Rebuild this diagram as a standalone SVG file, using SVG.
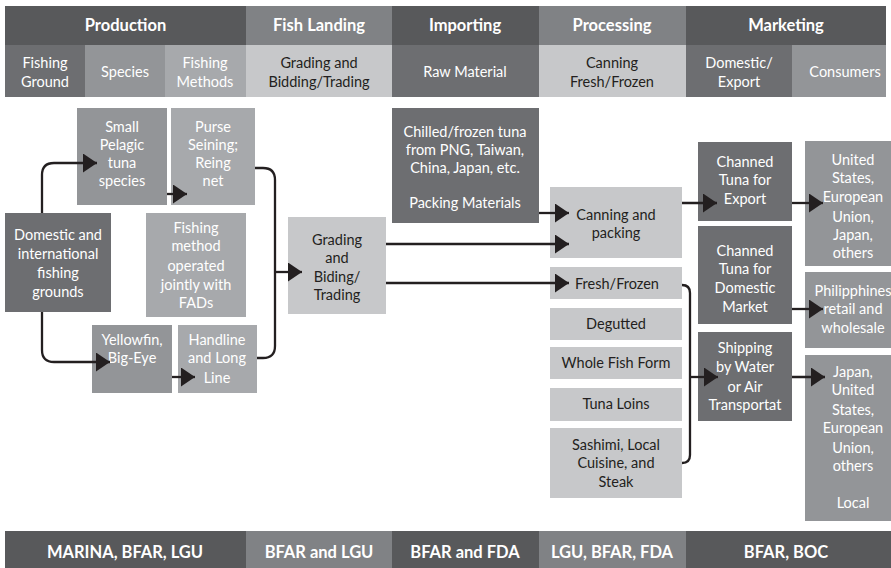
<svg xmlns="http://www.w3.org/2000/svg" width="891" height="568" viewBox="0 0 891 568">
<defs>
<marker id="ah" markerUnits="userSpaceOnUse" markerWidth="16" markerHeight="20" refX="14" refY="9.5" orient="auto">
<path d="M0,0 L14,9.5 L0,19 z" fill="#231f20"/>
</marker>
<style>
text{font-family:Lato,"Open Sans","Liberation Sans",sans-serif;text-anchor:middle;}
.h{font-size:16.5px;font-weight:bold;fill:#fff;}
.s{font-size:14.5px;fill:#fff;}
.sd{font-size:14.5px;fill:#231f20;}
.t{font-size:14.5px;fill:#fff;}
.td{font-size:14.5px;fill:#231f20;}
.dk{fill:#58595b;}
.md{fill:#808285;}
.g1{fill:#6d6e71;}
.g2{fill:#939598;}
.g3{fill:#a7a9ac;}
.g4{fill:#c7c8ca;}
.c{fill:none;stroke:#231f20;stroke-width:2.3;}
</style>
</defs>
<rect width="891" height="568" fill="#fff"/>

<g id="header">
<rect class="dk" x="5" y="6" width="241" height="39"/>
<rect class="md" x="246" y="6" width="146" height="39"/>
<rect class="dk" x="392" y="6" width="147" height="39"/>
<rect class="md" x="539" y="6" width="147" height="39"/>
<rect class="dk" x="686" y="6" width="200" height="39"/>
<text class="h" x="125.5" y="31">Production</text>
<text class="h" x="319" y="31">Fish Landing</text>
<text class="h" x="465" y="31">Importing</text>
<text class="h" x="612" y="31">Processing</text>
<text class="h" x="786" y="31">Marketing</text>
</g>

<g id="subheader">
<rect class="g1" x="5" y="45" width="80" height="52"/>
<rect class="g2" x="85" y="45" width="80" height="52"/>
<rect class="g3" x="165" y="45" width="81" height="52"/>
<rect class="g4" x="246" y="45" width="146" height="52"/>
<rect class="g1" x="392" y="45" width="147" height="52"/>
<rect class="g4" x="539" y="45" width="147" height="52"/>
<rect class="g1" x="686" y="45" width="106" height="52"/>
<rect class="g2" x="792" y="45" width="94" height="52"/>
<text class="s" x="45" y="68">Fishing</text>
<text class="s" x="45" y="87">Ground</text>
<text class="s" x="125" y="77">Species</text>
<text class="s" x="205" y="68">Fishing</text>
<text class="s" x="205" y="87">Methods</text>
<text class="sd" x="319" y="68">Grading and</text>
<text class="sd" x="319" y="87">Bidding/Trading</text>
<text class="s" x="465" y="77">Raw Material</text>
<text class="sd" x="612" y="68">Canning</text>
<text class="sd" x="612" y="87">Fresh/Frozen</text>
<text class="s" x="739" y="68">Domestic/</text>
<text class="s" x="739" y="87">Export</text>
<text class="s" x="845" y="77">Consumers</text>
</g>

<g id="n-small-pelagic">
<rect class="g2" x="77" y="108" width="90" height="97"/>
<text class="t" x="122" y="132">Small</text>
<text class="t" x="122" y="150">Pelagic</text>
<text class="t" x="122" y="168">tuna</text>
<text class="t" x="122" y="186">species</text>
</g>
<g id="n-purse">
<rect class="g3" x="171" y="108" width="84" height="97"/>
<text class="t" x="213" y="132">Purse</text>
<text class="t" x="213" y="150">Seining;</text>
<text class="t" x="213" y="168">Reing</text>
<text class="t" x="213" y="186">net</text>
</g>
<g id="n-domestic-grounds">
<rect class="g1" x="5" y="213" width="106" height="99"/>
<text class="t" x="58" y="240">Domestic and</text>
<text class="t" x="58" y="259">international</text>
<text class="t" x="58" y="278">fishing</text>
<text class="t" x="58" y="297">grounds</text>
</g>
<g id="n-fads">
<rect class="g3" x="146" y="213" width="100" height="104"/>
<text class="t" x="196" y="233">Fishing</text>
<text class="t" x="196" y="251">method</text>
<text class="t" x="196" y="271">operated</text>
<text class="t" x="196" y="290">jointly with</text>
<text class="t" x="196" y="308">FADs</text>
</g>
<g id="n-yellowfin">
<rect class="g2" x="92" y="325" width="80" height="68"/>
<text class="t" x="132" y="345">Yellowfin,</text>
<text class="t" x="132" y="363">Big-Eye</text>
</g>
<g id="n-handline">
<rect class="g3" x="178" y="325" width="79" height="68"/>
<text class="t" x="217" y="345">Handline</text>
<text class="t" x="217" y="363">and Long</text>
<text class="t" x="217" y="383">Line</text>
</g>
<g id="n-grading">
<rect class="g4" x="288" y="217" width="98" height="97"/>
<text class="td" x="337" y="245">Grading</text>
<text class="td" x="337" y="263">and</text>
<text class="td" x="337" y="282">Biding/</text>
<text class="td" x="337" y="300">Trading</text>
</g>
<g id="n-chilled">
<rect class="g1" x="392" y="108" width="147" height="115"/>
<text class="t" x="465" y="137">Chilled/frozen tuna</text>
<text class="t" x="465" y="155">from PNG, Taiwan,</text>
<text class="t" x="465" y="173">China, Japan, etc.</text>
<text class="t" x="465" y="208">Packing Materials</text>
</g>
<g id="n-canning">
<rect class="g4" x="550" y="187" width="132" height="71"/>
<text class="td" x="616" y="220">Canning and</text>
<text class="td" x="616" y="238">packing</text>
</g>
<g id="n-fresh">
<rect class="g4" x="550" y="267" width="132" height="32"/>
<text class="td" x="617" y="289">Fresh/Frozen</text>
</g>
<g id="n-degutted">
<rect class="g4" x="550" y="308" width="132" height="32"/>
<text class="td" x="616" y="329">Degutted</text>
</g>
<g id="n-whole">
<rect class="g4" x="550" y="347" width="132" height="32"/>
<text class="td" x="616" y="368">Whole Fish Form</text>
</g>
<g id="n-loins">
<rect class="g4" x="550" y="388" width="132" height="33"/>
<text class="td" x="616" y="409">Tuna Loins</text>
</g>
<g id="n-sashimi">
<rect class="g4" x="550" y="428" width="132" height="70"/>
<text class="td" x="616" y="450">Sashimi, Local</text>
<text class="td" x="616" y="468">Cuisine, and</text>
<text class="td" x="616" y="487">Steak</text>
</g>
<g id="n-export">
<rect class="g1" x="698" y="142" width="94" height="79"/>
<text class="t" x="745" y="167">Channed</text>
<text class="t" x="745" y="185">Tuna for</text>
<text class="t" x="745" y="204">Export</text>
</g>
<g id="n-domestic-market">
<rect class="g1" x="698" y="226" width="94" height="98"/>
<text class="t" x="745" y="256">Channed</text>
<text class="t" x="745" y="274">Tuna for</text>
<text class="t" x="745" y="293">Domestic</text>
<text class="t" x="745" y="312">Market</text>
</g>
<g id="n-shipping">
<rect class="g1" x="698" y="332" width="94" height="89"/>
<text class="t" x="745" y="353">Shipping</text>
<text class="t" x="745" y="372">by Water</text>
<text class="t" x="745" y="392">or Air</text>
<text class="t" x="745" y="410">Transportat</text>
</g>
<g id="n-us">
<rect class="g2" x="805" y="141" width="96" height="125"/>
<text class="t" x="853" y="165">United</text>
<text class="t" x="853" y="183">States,</text>
<text class="t" x="853" y="202">European</text>
<text class="t" x="853" y="222">Union,</text>
<text class="t" x="853" y="240">Japan,</text>
<text class="t" x="853" y="258">others</text>
</g>
<g id="n-philippines">
<rect class="g2" x="805" y="272" width="96" height="76"/>
<text class="t" x="853" y="296">Philipphines</text>
<text class="t" x="853" y="314">retail and</text>
<text class="t" x="853" y="333">wholesale</text>
</g>
<g id="n-japan">
<rect class="g2" x="805" y="355" width="96" height="166"/>
<text class="t" x="853" y="377">Japan,</text>
<text class="t" x="853" y="395">United</text>
<text class="t" x="853" y="415">States,</text>
<text class="t" x="853" y="433">European</text>
<text class="t" x="853" y="453">Union,</text>
<text class="t" x="853" y="471">others</text>
<text class="t" x="853" y="508">Local</text>
</g>

<g id="connectors">
<path class="c" d="M42,213 V175 Q42,163 54,163 H97" marker-end="url(#ah)"/>
<path class="c" d="M167,194 H187" marker-end="url(#ah)"/>
<path class="c" d="M255,168 H263 Q275,168 275,180 V346 Q275,358 263,358 H257"/>
<path class="c" d="M275,272 H302" marker-end="url(#ah)"/>
<path class="c" d="M42,312 V350 Q42,362 54,362 H110" marker-end="url(#ah)"/>
<path class="c" d="M172,377 H195" marker-end="url(#ah)"/>
<path class="c" d="M539,213 H569" marker-end="url(#ah)"/>
<path class="c" d="M386,244 H569" marker-end="url(#ah)"/>
<path class="c" d="M386,283 H569" marker-end="url(#ah)"/>
<path class="c" d="M682,203 H717" marker-end="url(#ah)"/>
<path class="c" d="M792,203 H823" marker-end="url(#ah)"/>
<path class="c" d="M792,309 H823" marker-end="url(#ah)"/>
<path class="c" d="M682,285 Q690,285 690,293 V455 Q690,463 682,463"/>
<path class="c" d="M690,377 H718" marker-end="url(#ah)"/>
<path class="c" d="M792,377 H825" marker-end="url(#ah)"/>
</g>

<g id="footer">
<rect class="dk" x="5" y="531" width="241" height="37"/>
<rect class="md" x="246" y="531" width="146" height="37"/>
<rect class="dk" x="392" y="531" width="147" height="37"/>
<rect class="md" x="539" y="531" width="147" height="37"/>
<rect class="dk" x="686" y="531" width="205" height="37"/>
<text class="h" x="125" y="558">MARINA, BFAR, LGU</text>
<text class="h" x="319" y="558">BFAR and LGU</text>
<text class="h" x="465" y="558">BFAR and FDA</text>
<text class="h" x="612" y="558">LGU, BFAR, FDA</text>
<text class="h" x="786" y="558">BFAR, BOC</text>
</g>
</svg>
